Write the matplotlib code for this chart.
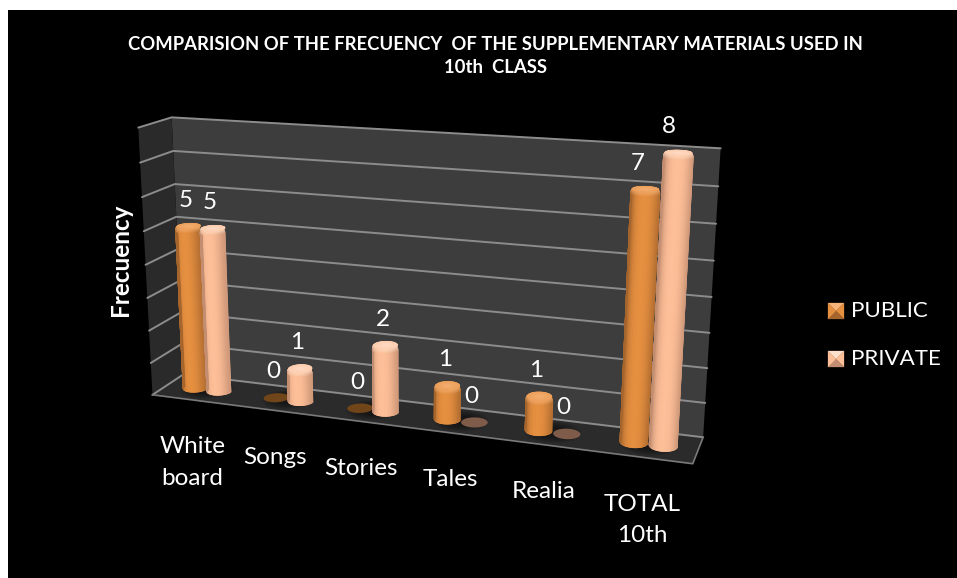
import numpy as np
import matplotlib
matplotlib.use("Agg")
import matplotlib.pyplot as plt
from matplotlib.patches import Polygon, Rectangle

plt.rcParams["font.family"] = ["Lato", "DejaVu Sans"]

categories = ["White\nboard", "Songs", "Stories", "Tales", "Realia", "TOTAL\n10th"]
public_values = [5, 0, 0, 1, 1, 7]
private_values = [5, 1, 2, 0, 0, 8]
series_names = ["PUBLIC", "PRIVATE"]
title = ("COMPARISION OF THE FRECUENCY  OF THE SUPPLEMENTARY MATERIALS USED IN\n"
         "10th  CLASS")
axis_label = "Frecuency"
value_max = 8

W, H = 957, 578

# Chart box corners: (category position, value, depth) -> pixel, used to solve the camera.
box_world = np.array([[0, 0, 0], [6, 0, 0], [0, 8, 0], [6, 8, 0],
                      [0, 0, 1], [6, 0, 1], [0, 8, 1], [6, 8, 1]], float)
box_pixel = np.array([[183, 375], [703, 438], [173, 117], [720, 147],
                      [153, 394], [693, 463], [137, 128], [711, 163]], float)


def solve_camera(world, pixel):
    rows = []
    for (x, y, z), (u, v) in zip(world, pixel):
        rows.append([x, y, z, 1, 0, 0, 0, 0, -u * x, -u * y, -u * z, -u])
        rows.append([0, 0, 0, 0, x, y, z, 1, -v * x, -v * y, -v * z, -v])
    return np.linalg.svd(np.array(rows))[2][-1].reshape(3, 4)


CAMERA = solve_camera(box_world, box_pixel)


def project(x, v, d):
    x, v, d = np.broadcast_arrays(np.asarray(x, float), np.asarray(v, float), np.asarray(d, float))
    pts = np.stack([x, v, d, np.ones_like(x)], axis=-1) @ CAMERA.T
    return pts[..., :2] / pts[..., 2:3]


def rgb(c):
    return np.array(matplotlib.colors.to_rgb(c))


fig = plt.figure(figsize=(W / 100, H / 100), dpi=100, facecolor="white")
ax = fig.add_axes([0, 0, 1, 1])
ax.set_xlim(0, W)
ax.set_ylim(H, 0)
ax.axis("off")
ax.add_patch(Rectangle((8, 10), W, H, fc="black", ec="none", zorder=0))

# Walls and floor
BACK, LEFT, FLOOR, GRID = "#3d3d3d", "#2a2a2a", "#2b2b2b", "#8c8c8c"
ax.add_patch(Polygon(project([0, 6, 6, 0], [0, 0, 8, 8], 0), fc=BACK, ec="none", zorder=1))
ax.add_patch(Polygon(project(0, [0, 8, 8, 0], [0, 0, 1, 1]), fc=LEFT, ec="none", zorder=1))
ax.add_patch(Polygon(project([0, 6, 6, 0], 0, [0, 0, 1, 1]), fc=FLOOR, ec="none", zorder=1))
for level in range(value_max + 1):
    pts = project([0, 0, 6], level, [1, 0, 0])
    ax.plot(pts[:, 0], pts[:, 1], color=GRID, lw=1.4, solid_capstyle="round", zorder=2)
edge = project([0, 6, 6], 0, [1, 1, 0])
ax.plot(edge[:, 0], edge[:, 1], color="#7a7a7a", lw=1.2, zorder=2)

RX, RD, OFFSET, DEPTH = 0.14, 0.2, 0.15, 0.5
BEVEL = 0.11
z = [3]


def draw_floor_shadow(cx):
    t = np.linspace(0, 2 * np.pi, 60)
    for scale in np.linspace(2.1, 1.1, 6):
        ax.add_patch(Polygon(project(cx + RX * scale * np.cos(t), 0, DEPTH + RD * scale * np.sin(t)),
                             fc="black", alpha=0.08, ec="none", zorder=2.5))


def draw_cylinder(cx, value, dark, mid, light, disc):
    z[0] += 1
    t = np.linspace(0, 2 * np.pi, 80)
    if value == 0:
        ax.add_patch(Polygon(project(cx + RX * np.cos(t), 0, DEPTH + RD * np.sin(t)),
                             fc=disc, ec="none", zorder=z[0]))
        return
    dark, mid, light = rgb(dark), rgb(mid), rgb(light)

    # Side wall, smooth across its width and brightening into the rounded rim
    theta = np.linspace(0, np.pi, 31)
    s = np.linspace(0, 1, 7)
    heights = np.r_[0, value - BEVEL * (1 - s)]
    radii = np.r_[1, 1 - 0.1 * s ** 2]
    lift = np.r_[0, 0.65 * s][:, None, None]
    rr, tt = np.meshgrid(radii, theta, indexing="ij")
    vv = np.repeat(heights[:, None], theta.size, axis=1)
    xy = project(cx + RX * rr * np.cos(tt), vv, DEPTH + RD * rr * np.sin(tt))
    across = (np.abs(np.cos(tt) - 0.1).clip(0, 1) ** 2.6)[..., None]
    side = mid + (dark - mid) * across
    side = side + (light - side) * lift

    outline = np.vstack([xy[0], xy[-1][::-1]])
    ax.add_patch(Polygon(outline, fc=dark, ec=dark, lw=0.5, zorder=z[0]))
    ax.pcolormesh(xy[..., 0], xy[..., 1], side, shading="gouraud", zorder=z[0] + 0.1)

    # Top face with a soft highlight in the middle
    rr, tt = np.meshgrid(np.linspace(0.9, 0, 8), t[::2], indexing="ij")
    xy = project(cx + RX * rr * np.cos(tt), value, DEPTH + RD * rr * np.sin(tt))
    glow = (0.45 + 0.4 * (1 - rr / 0.9))[..., None]
    cap = mid + (light - mid) * glow
    ax.add_patch(Polygon(xy[0], fc=mid + (light - mid) * 0.45, ec="none", zorder=z[0] + 0.2))
    ax.pcolormesh(xy[..., 0], xy[..., 1], cap, shading="gouraud", zorder=z[0] + 0.3)


PUBLIC = ("#a5652d", "#e58f40", "#f6b47a", "#6f4519")
PRIVATE = ("#c28d70", "#fdbf98", "#ffe0cc", "#7f5c4a")

for i, (pub, pri) in enumerate(zip(public_values, private_values)):
    draw_floor_shadow(i + 0.5)
    for cx, value, style in [(i + 0.5 - OFFSET, pub, PUBLIC), (i + 0.5 + OFFSET, pri, PRIVATE)]:
        draw_cylinder(cx, value, *style)
        top, base = project(cx, value, DEPTH), project(cx, 0, DEPTH)
        lean = max(top[0] - base[0], 0)
        ax.text(top[0] - 3 - 0.45 * lean, top[1] - 26, str(value), color="white", fontsize=17.5,
                ha="center", va="center", zorder=40)

    foot = project(i + 0.5, 0, 1)
    ax.text(foot[0], foot[1] + 36.5, categories[i], color="white", fontsize=17.5,
            ha="center", va="top", linespacing=1.6, zorder=40)

ax.text(495, 56, title, color="white", fontsize=13.3, fontweight="bold",
        ha="center", va="center", linespacing=1.36, zorder=40)
ax.text(120, 260, axis_label, color="white", fontsize=17.5, fontweight="bold",
        rotation=90, ha="center", va="center", zorder=40)


def legend_key(x0, y0, size, dark, mid, light):
    c = (x0 + size / 2, y0 + size / 2)
    corners = [(x0, y0), (x0 + size, y0), (x0 + size, y0 + size), (x0, y0 + size)]
    shades = [light, mid, dark, mid]
    for k, col in enumerate(shades):
        ax.add_patch(Polygon([corners[k], corners[(k + 1) % 4], c], fc=col, ec=col, lw=0.2, zorder=40))


for name, y0, style in zip(series_names, [303, 351], [PUBLIC, PRIVATE]):
    legend_key(828, y0, 16, style[0], style[1], style[2])
    ax.text(851, y0 + 8, name, color="white", fontsize=16.1, ha="left", va="center", zorder=40)

fig.savefig("out.png", dpi=100, facecolor=fig.get_facecolor())
